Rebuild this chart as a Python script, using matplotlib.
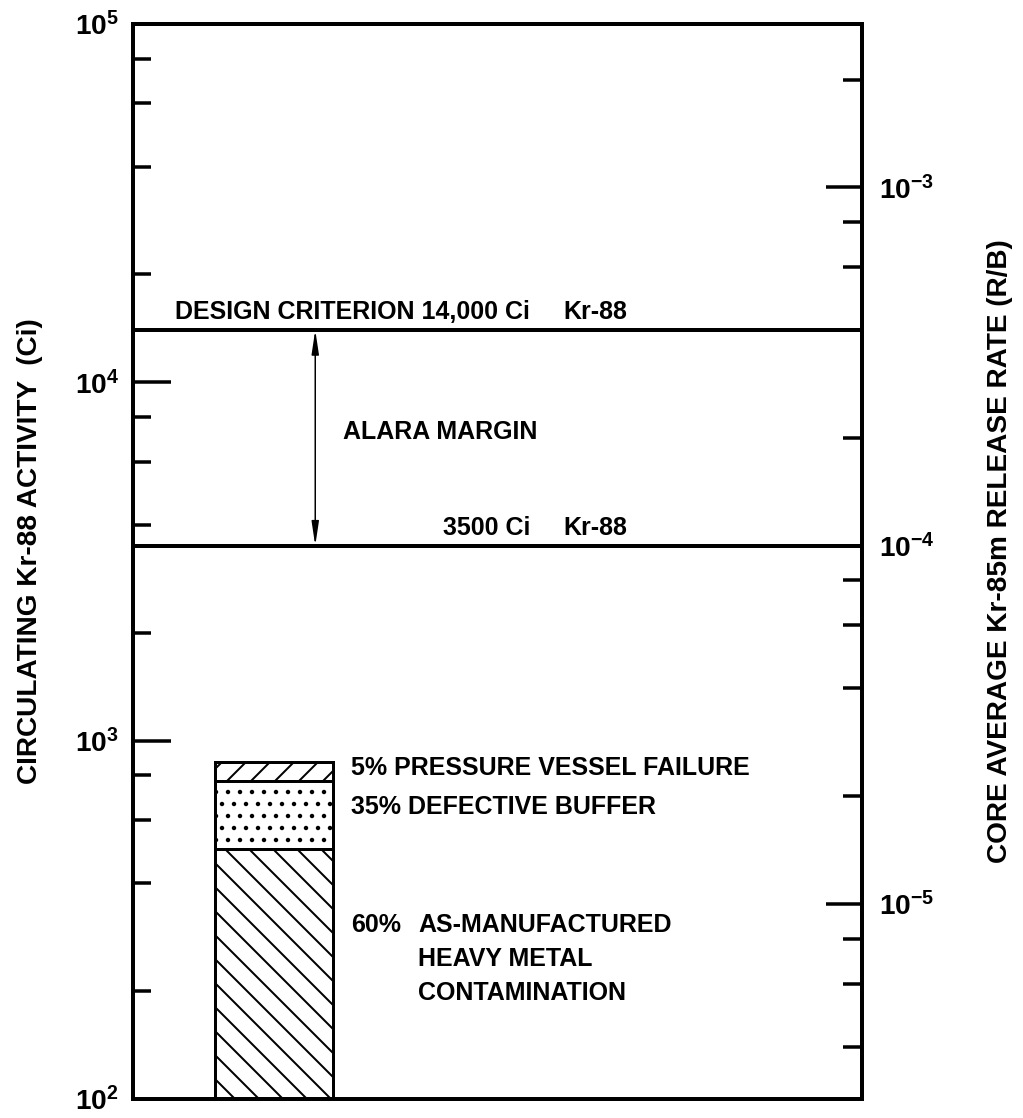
"""
    Circulating Kr-88 activity budget with design criterion and ALARA margin.
"""

import matplotlib
matplotlib.use("Agg")
import matplotlib.pyplot as plt
from matplotlib import ticker

FONT = ["Liberation Sans", "DejaVu Sans"]

# left axis is circulating activity (Ci), right axis is the core average R/B
CI_PER_RB = 3.5e7
Y_RANGE = [1e2, 1e5]

DESIGN_LIMIT = 14000
ALARA_LIMIT = 3500

# stacked bar, bottom to top (Ci)
SEGMENT_CI = [500, 270, 100]
SEGMENT_HATCH = ["\\", ".", "/"]
SEGMENT_TEXT = ["60%", "35% DEFECTIVE BUFFER", "5% PRESSURE VESSEL FAILURE"]

LEFT_TICKS = [1e2, 1e3, 1e4, 1e5]
LEFT_LABELS = [r"$10^{2}$", r"$10^{3}$", r"$10^{4}$", r"$10^{5}$"]
RIGHT_TICKS = [1e-5, 1e-4, 1e-3]
RIGHT_LABELS = [r"$10^{-5}$", r"$10^{-4}$", r"$10^{-3}$"]


def setup_fonts():
    plt.rcParams["font.family"] = FONT
    plt.rcParams["font.weight"] = "bold"
    plt.rcParams["axes.labelweight"] = "bold"
    plt.rcParams["mathtext.fontset"] = "custom"
    plt.rcParams["mathtext.rm"] = "Liberation Sans:bold"
    plt.rcParams["mathtext.bf"] = "Liberation Sans:bold"
    plt.rcParams["mathtext.default"] = "rm"
    plt.rcParams["hatch.linewidth"] = 2.0


def plot():
    W, H = 1023, 1118
    fig = plt.figure(figsize=(W / 72, H / 72), dpi=72)
    ax = fig.add_axes([133 / W, 1 - 1099 / H, 729 / W, 1075 / H])
    ax.set_yscale("log")
    ax.set_ylim(Y_RANGE)
    ax.set_xlim(0, 1)

    # right axis, same scale shifted by the conversion factor
    ax2 = ax.twinx()
    ax2.set_yscale("log")
    ax2.set_ylim(Y_RANGE[0] / CI_PER_RB, Y_RANGE[1] / CI_PER_RB)

    for a in (ax, ax2):
        for sp in a.spines.values():
            sp.set_linewidth(4)
    ax.tick_params(axis="x", bottom=False, labelbottom=False)

    ax.set_yticks(LEFT_TICKS, labels=LEFT_LABELS)
    ax.yaxis.set_minor_locator(ticker.LogLocator(base=10, subs=(2, 4, 6, 8)))
    ax.yaxis.set_minor_formatter(ticker.NullFormatter())
    ax.tick_params(axis="y", which="major", direction="in", length=38, width=3.5,
                   labelsize=28, pad=14, right=False)
    ax.tick_params(axis="y", which="minor", direction="in", length=18, width=3.5,
                   right=False)

    ax2.set_yticks(RIGHT_TICKS, labels=RIGHT_LABELS)
    ax2.yaxis.set_minor_locator(ticker.LogLocator(base=10, subs=(2, 4, 6, 8)))
    ax2.yaxis.set_minor_formatter(ticker.NullFormatter())
    ax2.tick_params(axis="y", which="major", direction="in", length=36, width=3.5,
                    labelsize=28, pad=17)
    ax2.tick_params(axis="y", which="minor", direction="in", length=19, width=3.5)

    ax.set_ylabel("CIRCULATING Kr-88 ACTIVITY  (Ci)", fontsize=28, va="center")
    ax.yaxis.set_label_coords(-0.141, 0.51)
    ax2.set_ylabel("CORE AVERAGE Kr-85m RELEASE RATE (R/B)", fontsize=28,
                   va="center", rotation=90)
    ax2.yaxis.set_label_coords(1.189, 0.51)

    # limits
    ax.axhline(DESIGN_LIMIT, color="black", lw=4)
    ax.axhline(ALARA_LIMIT, color="black", lw=4)
    fs = 25
    ax.annotate("DESIGN CRITERION 14,000 Ci", xy=(0.5446, DESIGN_LIMIT), xytext=(0, 11),
                textcoords="offset points", ha="right", va="baseline", fontsize=fs)
    ax.annotate("Kr-88", xy=(0.5898, DESIGN_LIMIT), xytext=(0, 11),
                textcoords="offset points", ha="left", va="baseline", fontsize=fs)
    ax.annotate("3500 Ci", xy=(0.5446, ALARA_LIMIT), xytext=(0, 11),
                textcoords="offset points", ha="right", va="baseline", fontsize=fs)
    ax.annotate("Kr-88", xy=(0.5898, ALARA_LIMIT), xytext=(0, 11),
                textcoords="offset points", ha="left", va="baseline", fontsize=fs)
    ax.annotate("", xy=(0.25, ALARA_LIMIT), xytext=(0.25, DESIGN_LIMIT),
                arrowprops=dict(arrowstyle="<|-|>,head_length=2,head_width=0.3",
                                lw=1.5, color="black", shrinkA=0, shrinkB=0))
    ax.text(0.288, (DESIGN_LIMIT * ALARA_LIMIT) ** 0.5 * 1.04, "ALARA MARGIN",
            ha="left", va="center", fontsize=fs)

    # stacked bar
    bottom = 0
    for val, hatch in zip(SEGMENT_CI, SEGMENT_HATCH):
        ax.bar(0.193, val, bottom=bottom, width=0.162, facecolor="white",
               edgecolor="black", linewidth=3, hatch=hatch)
        bottom += val

    label_y = [306, 655, 840]
    for text, y in zip(SEGMENT_TEXT, label_y):
        ax.text(0.299, y, text, ha="left", va="center", fontsize=fs)
    ax.text(0.3909, 306, "AS-MANUFACTURED", ha="left", va="center", fontsize=fs)
    ax.text(0.3909, 246, "HEAVY METAL", ha="left", va="center", fontsize=fs)
    ax.text(0.3909, 198, "CONTAMINATION", ha="left", va="center", fontsize=fs)

    plt.savefig("out.png", dpi=72)
    plt.close()


if __name__ == "__main__":
    setup_fonts()
    plot()
